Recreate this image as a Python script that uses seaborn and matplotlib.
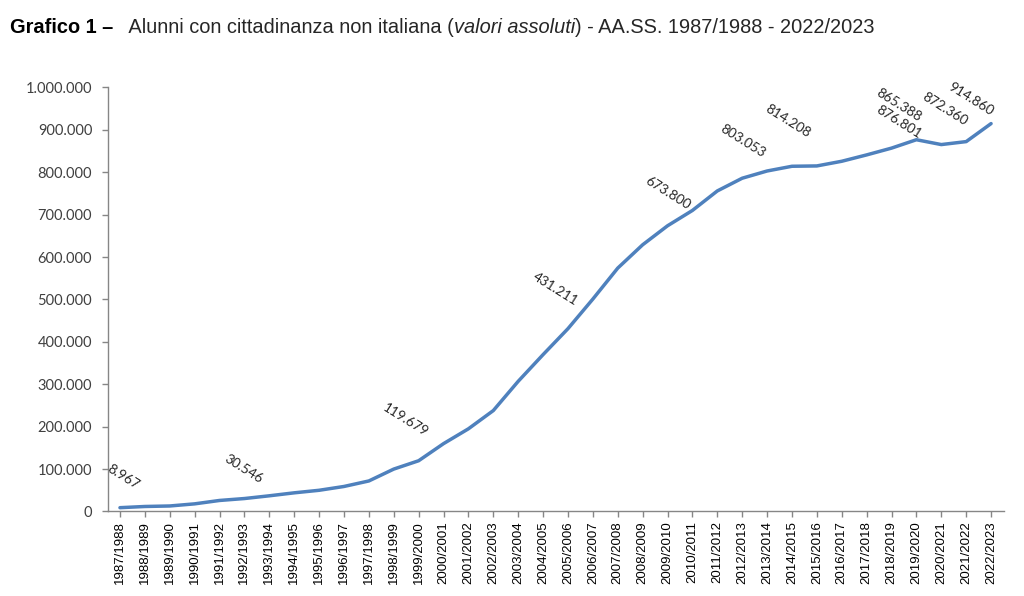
import matplotlib
matplotlib.use("Agg")
import matplotlib.pyplot as plt
import seaborn as sns
import pandas as pd
from matplotlib.ticker import FuncFormatter, FixedLocator

# ---- data ----
years = [f"{y}/{y+1}" for y in range(1987, 2023)]
values = [8967, 11791, 13000, 18000, 26000, 30546, 37000, 44000, 50000, 59000,
          72000, 100000, 119679, 160000, 195000, 238000, 307000, 370000, 431211,
          501000, 574000, 629000, 673800, 710000, 756000, 786000, 803053, 814208,
          815000, 826000, 841000, 857000, 876801, 865388, 872360, 914860]
label_years = ["1987/1988", "1992/1993", "1999/2000", "2005/2006", "2009/2010",
               "2013/2014", "2014/2015", "2019/2020", "2020/2021", "2021/2022",
               "2022/2023"]
label_texts = ["8.967", "30.546", "119.679", "431.211", "673.800", "803.053",
               "814.208", "876.801", "865.388", "872.360", "914.860"]
# label offsets in pixels (style / placement only)
label_offsets = [(3, 31), (-1, 30), (-13, 41), (-13, 40), (0, 33), (-24, 30),
                 (-4, 45), (-17, 18), (-42, 40), (-21, 33), (-20, 25)]

df = pd.DataFrame({"anno": years, "alunni": values})
df["x"] = range(len(df))

sns.set_theme(style="white")
plt.rcParams["font.family"] = ["Lato", "DejaVu Sans"]

fig = plt.figure(figsize=(10.24, 5.96), dpi=100)
ax = fig.add_axes([0.105, 0.1418, 0.875, 0.7114])

sns.lineplot(data=df, x="x", y="alunni", ax=ax, color="#4F81BD", linewidth=2.5,
             solid_capstyle="round")

ax.set_xlim(-0.5, len(years) - 0.5)
ax.set_ylim(0, 1_000_000)
ax.xaxis.set_major_locator(FixedLocator(list(range(len(years)))))
ax.set_xticklabels(years, rotation=90, fontsize=9.5, color="#000000",
                   family=["Liberation Sans Narrow", "Liberation Sans", "DejaVu Sans"])
ax.yaxis.set_major_locator(FixedLocator(list(range(0, 1_000_001, 100_000))))
ax.yaxis.set_major_formatter(FuncFormatter(lambda v, p: f"{int(v):,}".replace(",", ".")))
for t in ax.get_yticklabels():
    t.set_fontsize(10.5)
    t.set_color("#404040")
ax.set_xlabel("")
ax.set_ylabel("")

for s in ["top", "right"]:
    ax.spines[s].set_visible(False)
for s in ["left", "bottom"]:
    ax.spines[s].set_color("#868686")
    ax.spines[s].set_linewidth(1.0)
ax.tick_params(axis="both", which="both", direction="out", length=4, width=1,
               color="#868686", left=True, bottom=True)
ax.tick_params(axis="y", pad=7)
ax.tick_params(axis="x", pad=3)

# data labels
lookup = dict(zip(years, values))
xindex = {y: i for i, y in enumerate(years)}
for yr, txt, off in zip(label_years, label_texts, label_offsets):
    ax.annotate(txt, xy=(xindex[yr], lookup[yr]), xytext=off,
                textcoords="offset pixels", rotation=-32, rotation_mode="anchor",
                ha="center", va="center", fontsize=9.8, color="#262626")

# title
tfam = ["Liberation Sans", "DejaVu Sans"]
fs = 14.4
t1 = fig.text(0.0098, 0.945, "Grafico 1 \u2013", fontsize=fs, fontweight="bold",
              family=tfam, va="baseline", ha="left", color="black")
t2 = ax.annotate("   Alunni con cittadinanza non italiana (", xy=(1, 0),
                 xycoords=t1, va="bottom", ha="left", fontsize=fs, family=tfam)
t3 = ax.annotate("valori assoluti", xy=(1, 0), xycoords=t2, va="bottom",
                 ha="left", fontsize=fs, family=tfam, style="italic")
t4 = ax.annotate(") - AA.SS. 1987/1988 - 2022/2023", xy=(1, 0), xycoords=t3,
                 va="bottom", ha="left", fontsize=fs, family=tfam)

fig.savefig("out.png", dpi=100)
